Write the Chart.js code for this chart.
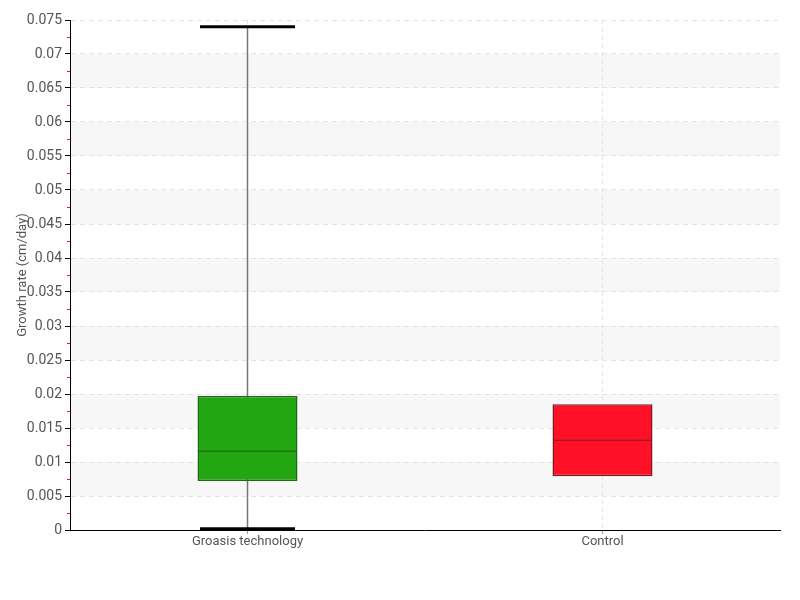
<!DOCTYPE html>
<html>
<head>
<meta charset="utf-8">
<script src="https://cdn.jsdelivr.net/npm/chart.js@4.4.0/dist/chart.umd.min.js"></script>
<style>
  html, body { margin: 0; padding: 0; background: #fff; }
  #wrap { width: 800px; height: 600px; }
</style>
</head>
<body>
<div id="wrap"><canvas id="chart" width="800" height="600"></canvas></div>
<script>
// Box plot values
const categories = ['Groasis technology', 'Control'];
const minValues = [0.0002, 0.0079];
const q1Values = [0.0072, 0.0079];
const medianValues = [0.0116, 0.0132];
const q3Values = [0.0197, 0.0185];
const maxValues = [0.0740, 0.0185];
const boxColors = ['#22a612', '#ff1027'];
const boxBorders = ['#1e6a14', '#7a1c24'];

const fontFamily = "Roboto, 'Liberation Sans', sans-serif";

// alternating bands, minor ticks, whiskers and medians
const boxPlotPlugin = {
    id: 'boxPlot',
    beforeDraw(chart) {
        const { ctx, chartArea, scales } = chart;
        const y = scales.y;
        ctx.save();
        ctx.fillStyle = '#f7f7f7';
        for (let v = 0.005; v < 0.075; v += 0.01) {
            const top = y.getPixelForValue(v + 0.005);
            const bottom = y.getPixelForValue(v);
            ctx.fillRect(chartArea.left, top, chartArea.right - chartArea.left, bottom - top);
        }
        ctx.restore();
    },
    beforeDatasetsDraw(chart) {
        const { ctx, scales } = chart;
        ctx.save();
        ctx.strokeStyle = '#777';
        ctx.lineWidth = 1.5;
        categories.forEach((c, i) => {
            if (maxValues[i] === q3Values[i] && minValues[i] === q1Values[i]) return;
            const x = scales.x.getPixelForValue(i);
            ctx.beginPath();
            ctx.moveTo(x, scales.y.getPixelForValue(minValues[i]));
            ctx.lineTo(x, scales.y.getPixelForValue(maxValues[i]));
            ctx.stroke();
        });
        ctx.restore();
    },
    afterDatasetsDraw(chart) {
        const { ctx, scales, chartArea } = chart;
        const meta = chart.getDatasetMeta(0);
        ctx.save();
        categories.forEach((c, i) => {
            const bar = meta.data[i];
            const half = bar.width / 2;
            const x = bar.x;
            // median
            ctx.strokeStyle = boxBorders[i];
            ctx.lineWidth = 1.2;
            const ym = scales.y.getPixelForValue(medianValues[i]);
            ctx.beginPath();
            ctx.moveTo(x - half + 1, ym);
            ctx.lineTo(x + half - 1, ym);
            ctx.stroke();
            // caps
            ctx.strokeStyle = '#000';
            ctx.lineWidth = 3;
            const capHalf = half * 0.95;
            [minValues[i], maxValues[i]].forEach((v, k) => {
                const edge = k === 0 ? q1Values[i] : q3Values[i];
                if (v === edge) return;
                const yc = scales.y.getPixelForValue(v);
                ctx.beginPath();
                ctx.moveTo(x - capHalf, yc);
                ctx.lineTo(x + capHalf, yc);
                ctx.stroke();
            });
        });
        // red minor ticks on the y axis
        ctx.strokeStyle = '#d62020';
        ctx.lineWidth = 1;
        for (let v = 0.0025; v < 0.075; v += 0.005) {
            const yp = Math.round(scales.y.getPixelForValue(v)) + 0.5;
            ctx.beginPath();
            ctx.moveTo(chartArea.left - 3, yp);
            ctx.lineTo(chartArea.left, yp);
            ctx.stroke();
        }
        ctx.restore();
    }
};

new Chart(document.getElementById('chart'), {
    type: 'bar',
    data: {
        labels: categories,
        datasets: [{
            data: q1Values.map((q1, i) => [q1, q3Values[i]]),
            backgroundColor: boxColors,
            borderColor: boxBorders,
            borderWidth: 1.5,
            borderSkipped: false,
            categoryPercentage: 1,
            barPercentage: 0.2817
        }]
    },
    options: {
        responsive: false,
        animation: false,
        layout: { padding: { top: 20, right: 20, left: 0, bottom: 0 } },
        plugins: {
            legend: { display: false },
            tooltip: { enabled: false }
        },
        scales: {
            x: {
                offset: true,
                grid: {
                    offset: false,
                    color: '#e4e4e4',
                    tickColor: '#999',
                    tickLength: 4
                },
                border: { color: '#000', width: 1, dash: [4, 4] },
                ticks: {
                    color: '#555',
                    padding: 0,
                    font: { family: fontFamily, size: 13 }
                },
                afterFit(scale) { scale.height = 70; }
            },
            y: {
                min: 0,
                max: 0.075,
                grid: {
                    color: '#e4e4e4',
                    tickColor: '#000',
                    tickLength: 5
                },
                border: { color: '#000', width: 1, dash: [5, 4] },
                ticks: {
                    stepSize: 0.005,
                    color: '#555',
                    padding: 3,
                    font: { family: fontFamily, size: 14 },
                    callback: (v) => String(+v.toFixed(4))
                },
                title: {
                    display: true,
                    text: 'Growth rate (cm/day)',
                    color: '#555',
                    padding: { top: 15, bottom: 0 },
                    font: { family: fontFamily, size: 13 }
                },
                afterFit(scale) { scale.width = 70; }
            }
        }
    },
    plugins: [boxPlotPlugin]
});
</script>
</body>
</html>
